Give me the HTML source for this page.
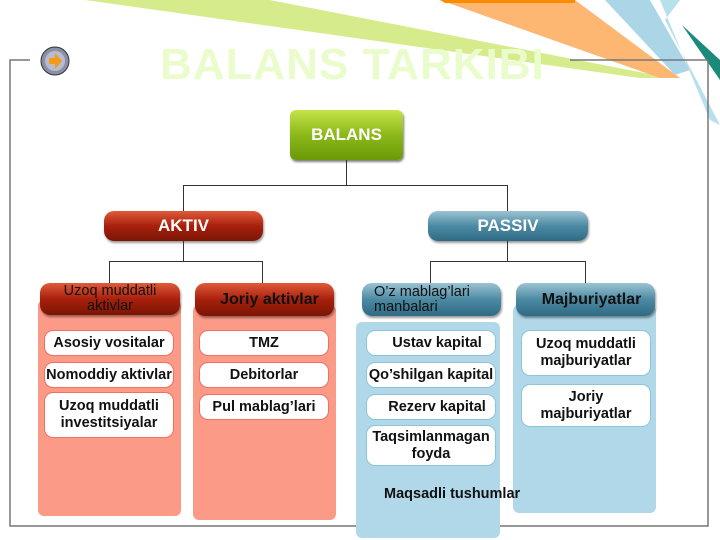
<!DOCTYPE html>
<html><head><style>
body{margin:0;width:720px;height:540px;position:relative;overflow:hidden;background:#fff;font-family:"Liberation Sans",sans-serif;}
.a{position:absolute;box-sizing:border-box;}
.bg{border-radius:6px;}
.hd{border-radius:10px;color:#111;font-weight:bold;font-size:15px;display:flex;align-items:center;box-shadow:1px 2px 2px rgba(0,0,0,.4);}
.r{background:linear-gradient(#e05a3a,#a8200c 50%,#7a1505);}
.b{background:linear-gradient(#9cc3d3,#4c8aa3 50%,#2f6a82);}
.it{background:#fff;border-radius:9px;font-size:14.5px;font-weight:bold;color:#111;display:flex;align-items:center;justify-content:center;text-align:center;line-height:17px;}
.ri{border:1.5px solid #f07060;}
.bi{border:1.5px solid #8cc4dc;}
.ln{position:absolute;background:#333;}
</style></head><body>
<svg class="a" style="left:0;top:0" width="720" height="540">
<polygon points="85,0 270,0 670,78 640,78" fill="#d6ec8c"/>
<polygon points="440,0 575,0 680,78 660,78" fill="#fdb772"/>
<polygon points="440,0 575,0 575,3 445,3" fill="#ff8c00"/>
<polygon points="605,0 650,0 690,70 675,75" fill="#aad6e8"/>
<polygon points="660,0 680,0 665,20 720,125 710,120" fill="#b6e0ec"/>
<polygon points="682,25 720,60 720,80" fill="#1a8a7a"/>
<polyline points="30,60 10,60 10,526 708,526 708,60 570,60" fill="none" stroke="#777" stroke-width="1.5"/>
<circle cx="55" cy="61" r="14" fill="#8a8fa8" stroke="#333"/>
<circle cx="55" cy="61" r="10" fill="#b8bccc"/>
<path d="M49 58h6v-5l7 8-7 8v-5h-6z" fill="#f39a1a"/>
</svg>
<div class="a" style="left:160px;top:40px;font-size:44px;font-weight:bold;color:#eafccc;letter-spacing:1px">BALANS TARKIBI</div>
<div class="a" style="left:290px;top:110px;width:113px;height:50px;border-radius:6px;background:linear-gradient(#c4e44a,#8cb818 50%,#6a9a08);color:#fff;font-size:17px;font-weight:bold;display:flex;align-items:center;justify-content:center;box-shadow:1px 2px 2px rgba(0,0,0,.5)">BALANS</div>
<div class="ln" style="left:346px;top:160px;width:1px;height:25px"></div>
<div class="ln" style="left:183px;top:185px;width:325px;height:1px"></div>
<div class="ln" style="left:183px;top:185px;width:1px;height:26px"></div>
<div class="ln" style="left:507px;top:185px;width:1px;height:26px"></div>
<div class="a hd r" style="left:104px;top:211px;width:159px;height:30px;justify-content:center;color:#fff;font-size:17px">AKTIV</div>
<div class="a hd b" style="left:428px;top:211px;width:160px;height:30px;justify-content:center;color:#fff;font-size:17px">PASSIV</div>
<div class="ln" style="left:183px;top:241px;width:1px;height:20px"></div>
<div class="ln" style="left:109px;top:261px;width:153px;height:1px"></div>
<div class="ln" style="left:109px;top:261px;width:1px;height:22px"></div>
<div class="ln" style="left:262px;top:261px;width:1px;height:22px"></div>
<div class="ln" style="left:507px;top:241px;width:1px;height:20px"></div>
<div class="ln" style="left:430px;top:261px;width:155px;height:1px"></div>
<div class="ln" style="left:430px;top:261px;width:1px;height:22px"></div>
<div class="ln" style="left:585px;top:261px;width:1px;height:22px"></div>

<div class="a bg" style="left:38px;top:300px;width:143px;height:216px;background:#fc9a88"></div>
<div class="a bg" style="left:193px;top:305px;width:143px;height:215px;background:#fc9a88"></div>
<div class="a bg" style="left:356px;top:322px;width:144px;height:216px;background:#b0d8e8"></div>
<div class="a bg" style="left:513px;top:305px;width:143px;height:208px;background:#b0d8e8"></div>

<div class="a hd r" style="left:40px;top:283px;width:140px;height:32px;justify-content:center;text-align:center;line-height:15px;font-weight:normal;font-size:14.5px">Uzoq muddatli<br>aktivlar</div>
<div class="a hd r" style="left:195px;top:283px;width:139px;height:33px;justify-content:center;padding-left:10px;font-size:16px">Joriy aktivlar</div>
<div class="a hd b" style="left:362px;top:283px;width:139px;height:33px;padding-left:12px;line-height:15px;font-weight:normal;font-size:14.5px">O’z mablag’lari<br>manbalari</div>
<div class="a hd b" style="left:516px;top:283px;width:139px;height:33px;justify-content:center;padding-left:12px;font-size:16px">Majburiyatlar</div>

<div class="a it ri" style="left:44px;top:330px;width:130px;height:26px">Asosiy vositalar</div>
<div class="a it ri" style="left:44px;top:362px;width:130px;height:26px;white-space:nowrap">Nomoddiy aktivlar</div>
<div class="a it ri" style="left:44px;top:392px;width:130px;height:46px">Uzoq muddatli<br>investitsiyalar</div>
<div class="a it ri" style="left:199px;top:330px;width:130px;height:26px">TMZ</div>
<div class="a it ri" style="left:199px;top:362px;width:130px;height:26px">Debitorlar</div>
<div class="a it ri" style="left:199px;top:394px;width:130px;height:26px">Pul mablag’lari</div>
<div class="a it bi" style="left:366px;top:330px;width:130px;height:26px">&nbsp;&nbsp;&nbsp;Ustav kapital</div>
<div class="a it bi" style="left:366px;top:362px;width:130px;height:26px;white-space:nowrap">Qo’shilgan kapital</div>
<div class="a it bi" style="left:366px;top:394px;width:130px;height:26px">&nbsp;&nbsp;&nbsp;Rezerv kapital</div>
<div class="a it bi" style="left:366px;top:425px;width:130px;height:41px">Taqsimlanmagan<br>foyda</div>
<div class="a it bi" style="left:521px;top:330px;width:130px;height:46px">Uzoq muddatli<br>majburiyatlar</div>
<div class="a it bi" style="left:521px;top:384px;width:130px;height:43px">Joriy<br>majburiyatlar</div>
<div class="a" style="left:384px;top:486px;font-size:14.5px;font-weight:bold;color:#111">Maqsadli tushumlar</div>
</body></html>
